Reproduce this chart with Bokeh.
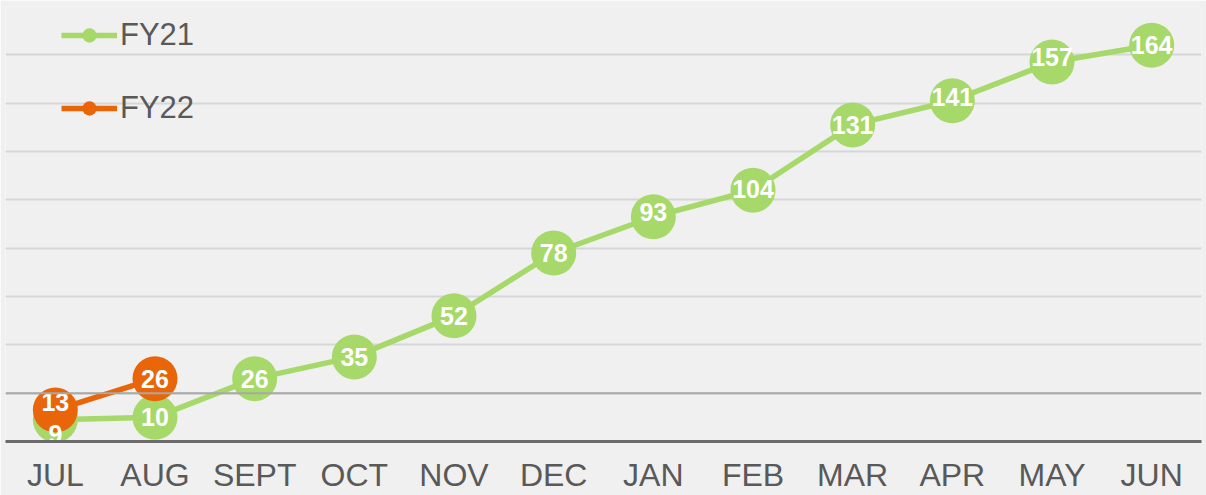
from bokeh.plotting import figure
from bokeh.models import ColumnDataSource, Range1d, FactorRange, Legend, LegendItem, Span, FixedTicker
from bokeh.core.properties import value
from bokeh.embed import file_html
from bokeh.resources import INLINE

months = ["JUL", "AUG", "SEPT", "OCT", "NOV", "DEC", "JAN", "FEB", "MAR", "APR", "MAY", "JUN"]
fy21 = [9, 10, 26, 35, 52, 78, 93, 104, 131, 141, 157, 164]
fy22 = [13, 26]

# label nudges in screen px (positive = down)
fy21_label_dy = [14, 0, 0, 0, 0, 0, -5, -1, 0, -4, -5, 0]
fy22_label_dy = [-8, 0]

GREEN = "#a6d86a"
ORANGE = "#e8650a"
BG = "#f0f0f0"
FONT = "Liberation Sans"

p = figure(width=1206, height=495, x_range=FactorRange(*months), y_range=Range1d(0, 180),
           output_backend="svg", toolbar_location=None,
           background_fill_color=BG, border_fill_color=BG, outline_line_color=None,
           min_border_left=5, min_border_right=5, min_border_top=6, min_border_bottom=0)

p.yaxis.visible = False
p.xgrid.visible = False
p.ygrid.ticker = FixedTicker(ticks=list(range(0, 181, 20)))
p.ygrid.grid_line_color = "#d6d6d6"
p.ygrid.grid_line_width = 2

p.add_layout(Span(location=20, dimension="width", line_color="#a8a8a8", line_width=2))

ax = p.xaxis[0]
ax.axis_line_color = "#6b6b6b"
ax.axis_line_width = 3
ax.major_tick_line_color = None
ax.minor_tick_line_color = None
ax.major_tick_in = 0
ax.major_tick_out = 0
ax.major_label_standoff = 15
ax.major_label_text_font = FONT
ax.major_label_text_font_size = "32px"
ax.major_label_text_color = "#595959"

s21 = ColumnDataSource(dict(x=months, y=fy21, t=[str(v) for v in fy21], dy=fy21_label_dy))
s22 = ColumnDataSource(dict(x=months[:len(fy22)], y=fy22, t=[str(v) for v in fy22], dy=fy22_label_dy))

l21 = p.line("x", "y", source=s21, line_color=GREEN, line_width=5.5)
c21 = p.scatter("x", "y", source=s21, size=45, fill_color=GREEN, line_color=None)
l22 = p.line("x", "y", source=s22, line_color=ORANGE, line_width=5.5)
c22 = p.scatter("x", "y", source=s22, size=45, fill_color=ORANGE, line_color=None)

for src in (s21, s22):
    p.text("x", "y", text="t", source=src, y_offset="dy", text_color="white",
           text_font=value(FONT), text_font_style="bold", text_font_size="25px",
           text_align="center", text_baseline="middle")

legend = Legend(items=[LegendItem(label="FY21", renderers=[l21, c21]),
                       LegendItem(label="FY22", renderers=[l22, c22])],
                location=(56, 315), orientation="vertical",
                glyph_width=56, glyph_height=36, spacing=37, padding=0, margin=0,
                label_standoff=3, label_text_font=FONT, label_text_font_size="31px",
                label_text_color="#595959", background_fill_alpha=0, border_line_alpha=0)
p.add_layout(legend, "center")

html = file_html(p, INLINE)
html = html.replace("<body>", '<body style="background:%s">' % BG, 1)
open("out.html", "w").write(html)
